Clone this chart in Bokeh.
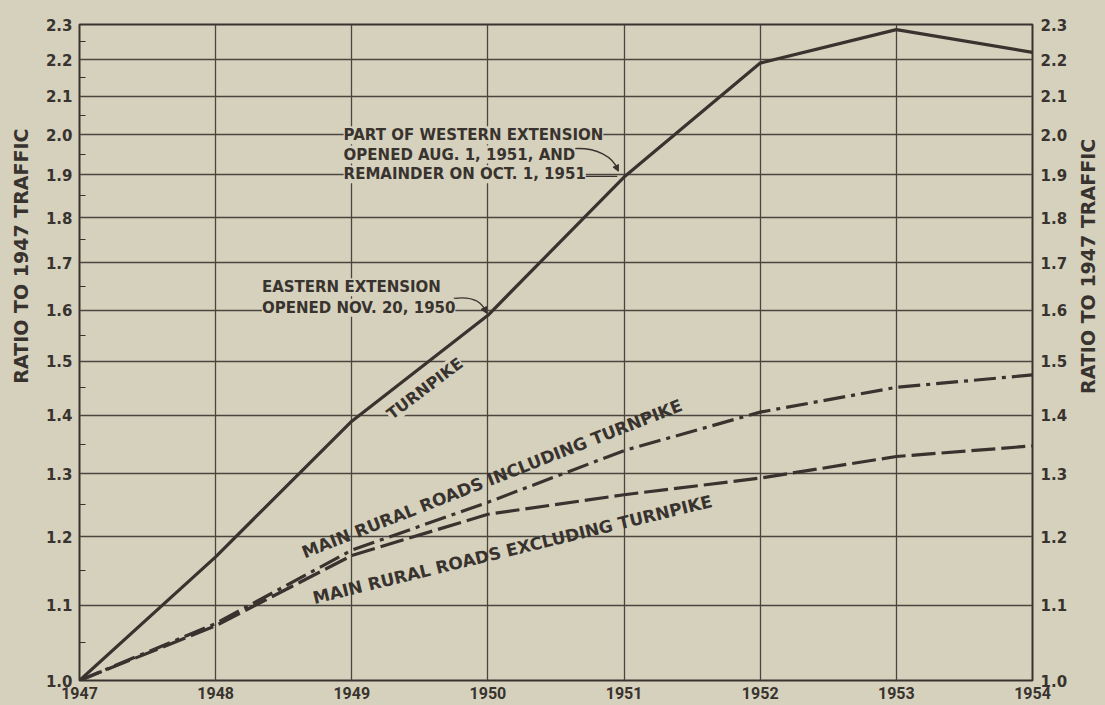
from bokeh.plotting import figure
from bokeh.layouts import row
from bokeh.models import (FixedTicker, PrintfTickFormatter, LogAxis, Label, Title,
                          Range1d, Arrow, NormalHead)
from bokeh.core.properties import value
from bokeh.embed import file_html
from bokeh.resources import INLINE

# ---- data ----
years = [1947, 1948, 1949, 1950, 1951, 1952, 1953, 1954]
turnpike = [1.00, 1.17, 1.39, 1.59, 1.895, 2.19, 2.285, 2.22]
rural_incl = [1.00, 1.075, 1.18, 1.254, 1.339, 1.406, 1.451, 1.474]
rural_excl = [1.00, 1.072, 1.172, 1.235, 1.266, 1.293, 1.329, 1.347]

y_ticks = [1.0, 1.1, 1.2, 1.3, 1.4, 1.5, 1.6, 1.7, 1.8, 1.9, 2.0, 2.1, 2.2, 2.3]
y_minor = [1.05, 1.15, 1.25, 1.35, 1.45, 1.55, 1.65, 1.75, 1.85, 1.95, 2.05, 2.15, 2.25]
x_ticks = years
y_title = "RATIO TO 1947 TRAFFIC"

BG = "#d6d1bd"
INK = "#38332e"
GRID = "#4a453e"
FONT = "DejaVu Sans"

p = figure(width=1074, height=705,
           x_range=Range1d(1947, 1954), y_range=Range1d(1.0, 2.3),
           y_axis_type="log", output_backend="svg", toolbar_location=None,
           min_border_left=77, min_border_right=42, min_border_top=24,
           min_border_bottom=25)
p.background_fill_color = BG
p.border_fill_color = BG
p.outline_line_color = INK
p.outline_line_width = 2

# axes
p.xaxis.ticker = FixedTicker(ticks=x_ticks)
p.xaxis.major_label_text_font = "Roboto"
p.xaxis.major_label_text_font_style = "bold"
p.xaxis.major_label_text_font_size = "16px"
p.xaxis.major_label_text_color = INK
p.xaxis.major_label_standoff = 6
p.xaxis.major_tick_out = 0
p.xaxis.major_tick_in = 0
p.xaxis.minor_tick_out = 0
p.xaxis.axis_line_color = None

p.yaxis.ticker = FixedTicker(ticks=y_ticks, minor_ticks=y_minor)
p.yaxis.formatter = PrintfTickFormatter(format="%.1f")
p.yaxis.major_label_text_font = FONT
p.yaxis.major_label_text_font_style = "bold"
p.yaxis.major_label_text_font_size = "15px"
p.yaxis.major_label_text_color = INK
p.yaxis.major_label_standoff = 7
p.yaxis.major_tick_out = 0
p.yaxis.major_tick_in = 0
p.yaxis.minor_tick_out = 0
p.yaxis.minor_tick_in = 6
p.yaxis.minor_tick_line_color = INK
p.yaxis.axis_line_color = None

ry = LogAxis(ticker=FixedTicker(ticks=y_ticks), formatter=PrintfTickFormatter(format="%.1f"))
ry.major_label_text_font = FONT
ry.major_label_text_font_style = "bold"
ry.major_label_text_font_size = "15px"
ry.major_label_text_color = INK
ry.major_label_standoff = 8
ry.major_tick_out = 0
ry.major_tick_in = 0
ry.minor_tick_out = 0
ry.minor_tick_in = 0
ry.axis_line_color = None
p.add_layout(ry, "right")

# left axis title (shifted towards the top, like the reference)
p.add_layout(Title(text=y_title, align="right", offset=104, vertical_align="top",
                   standoff=18, text_font=FONT, text_font_size="19px",
                   text_font_style="bold", text_color=INK), "left")

p.xgrid.ticker = FixedTicker(ticks=x_ticks)
p.ygrid.ticker = FixedTicker(ticks=y_ticks)
p.xgrid.grid_line_color = GRID
p.ygrid.grid_line_color = GRID
p.xgrid.grid_line_width = 1.3
p.ygrid.grid_line_width = 1.3

# series
p.line(years, rural_excl, line_color=INK, line_width=3.2, line_dash="24 6")
p.line(years, rural_incl, line_color=INK, line_width=3.2, line_dash="22 6 4 6")
p.line(years, turnpike, line_color=INK, line_width=3.2)

# annotations
def lab(text, x, y, angle=0, size="15px", align="left", bg=True):
    l = Label(x=x, y=y, text=text, angle=angle, angle_units="deg",
              text_font=FONT, text_font_size=size, text_font_style="bold",
              text_color=INK, text_align=align, text_baseline="middle",
              background_fill_color=BG if bg else None)
    p.add_layout(l)

lab("PART OF WESTERN EXTENSION", 1948.94, 1.998)
lab("OPENED AUG. 1, 1951, AND", 1948.94, 1.950)
lab("REMAINDER ON OCT. 1, 1951", 1948.94, 1.9015)
lab("EASTERN EXTENSION", 1948.34, 1.6476)
lab("OPENED NOV. 20, 1950", 1948.34, 1.605)
lab("TURNPIKE", 1949.536, 1.4486, angle=37, size="16px", align="center")
lab("MAIN RURAL ROADS INCLUDING TURNPIKE", 1950.03, 1.292, angle=21.4, size="17px",
    align="center", bg=False)
lab("MAIN RURAL ROADS EXCLUDING TURNPIKE", 1950.18, 1.181, angle=13.7, size="17px",
    align="center", bg=False)

# leader lines
p.bezier(x0=[1949.749], y0=[1.6243], x1=[1949.985], y1=[1.597],
         cx0=[1949.90], cy0=[1.630], cx1=[1949.96], cy1=[1.615],
         line_color=INK, line_width=1.4)
p.add_layout(Arrow(end=NormalHead(size=6, fill_color=INK, line_color=INK),
                   x_start=1949.975, y_start=1.602, x_end=1949.99, y_end=1.594,
                   line_color=INK, line_width=1.4))
p.bezier(x0=[1950.628], y0=[1.9646], x1=[1950.955], y1=[1.912],
         cx0=[1950.80], cy0=[1.968], cx1=[1950.92], cy1=[1.945],
         line_color=INK, line_width=1.4)
p.add_layout(Arrow(end=NormalHead(size=6, fill_color=INK, line_color=INK),
                   x_start=1950.945, y_start=1.918, x_end=1950.958, y_end=1.909,
                   line_color=INK, line_width=1.4))
p.line([1950.452, 1950.95], [1.8966, 1.8966], line_color=INK, line_width=1.4)

# right-hand axis title, reading bottom-to-top, in a narrow strip figure
p2 = figure(width=31, height=705, x_range=Range1d(0, 31), y_range=Range1d(0, 705),
            output_backend="svg", toolbar_location=None, min_border=0)
p2.axis.visible = False
p2.grid.visible = False
p2.outline_line_color = None
p2.background_fill_color = BG
p2.border_fill_color = BG
p2.text(x=[13], y=[445], text=[y_title], angle=90, angle_units="deg",
        text_font=value(FONT), text_font_size="19px", text_font_style="bold",
        text_color=INK, text_align="center", text_baseline="middle")

layout = row(p, p2)
html = file_html(layout, INLINE)
html = html.replace("</head>", "<style>html, body { background: %s; }</style></head>" % BG, 1)
open("out.html", "w").write(html)
